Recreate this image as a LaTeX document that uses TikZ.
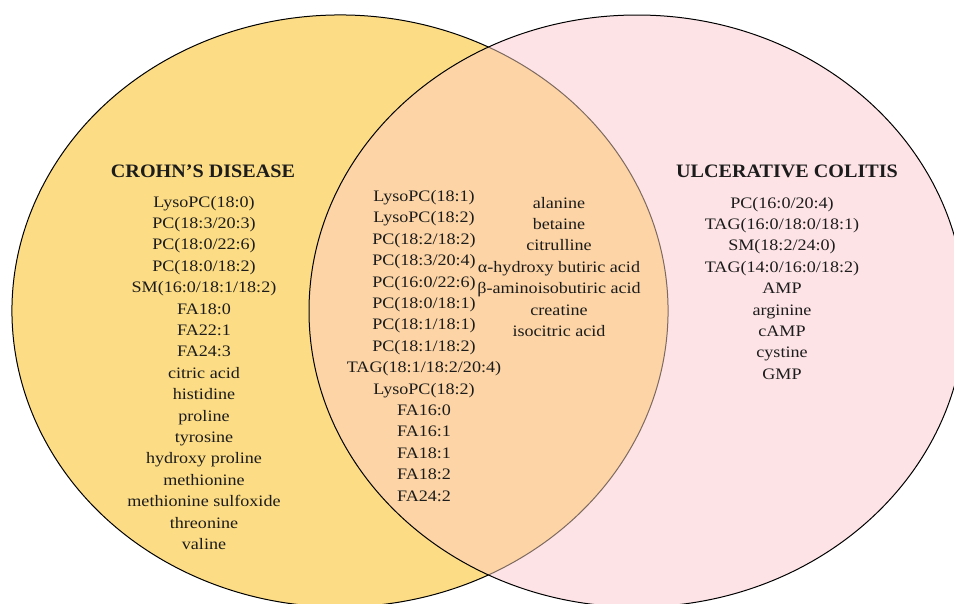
\documentclass[tikz,border=0pt]{standalone}
\usepackage{fontspec}
\setmainfont{Liberation Serif}[FakeStretch=1.13]
\newfontfamily\titlefont{Liberation Serif}[FakeStretch=1.06]
\definecolor{cdyel}{RGB}{252,220,132}
\definecolor{ucpink}{RGB}{253,227,230}
\definecolor{bothpeach}{RGB}{252,212,165}
\definecolor{ink}{RGB}{28,28,28}
\definecolor{innerarc}{RGB}{125,105,95}
\begin{document}
\begin{tikzpicture}[x=1pt,y=-1pt,
  item/.style={font=\fontsize{16}{19}\selectfont, text=ink, anchor=base, inner sep=0pt},
  ttl/.style={font=\titlefont\bfseries\fontsize{19}{22}\selectfont, text=ink, anchor=base, inner sep=0pt},
  outline/.style={draw=black, line width=1pt}]
\useasboundingbox (0,0) rectangle (954,603);
\clip (0,0) rectangle (954,603);
% fills
\fill[cdyel] (340,311) ellipse [x radius=328pt, y radius=296pt];
\fill[ucpink] (637,311) ellipse [x radius=328pt, y radius=296pt];
\begin{scope}
  \clip (340,311) ellipse [x radius=328pt, y radius=296pt];
  \fill[bothpeach] (637,311) ellipse [x radius=328pt, y radius=296pt];
\end{scope}
% outlines
\coordinate (cL) at (340,311);
\coordinate (cR) at (637,311);
\draw[outline] (cL) ++(63.08:328pt and 296pt) arc [start angle=63.08, end angle=296.92, x radius=328pt, y radius=296pt];
\draw[draw=innerarc, line width=1pt] (cL) ++(-63.08:328pt and 296pt) arc [start angle=-63.08, end angle=63.08, x radius=328pt, y radius=296pt];
\draw[outline] (cR) ellipse [x radius=328pt, y radius=296pt];
% titles
\node[ttl] (tcd) at (203,177) {CROHN’S DISEASE};
\node[ttl] (tuc) at (787,177) {ULCERATIVE COLITIS};
% Crohn's only
\foreach \t [count=\i] in {LysoPC(18:0),PC(18:3/20:3),PC(18:0/22:6),PC(18:0/18:2),SM(16:0/18:1/18:2),FA18:0,FA22:1,FA24:3,citric acid,histidine,proline,tyrosine,hydroxy proline,methionine,methionine sulfoxide,threonine,valine}
  \node[item] (cd\i) at (204,{207+21.4*(\i-1)}) {\t};
% shared, lipids
\foreach \t [count=\i] in {LysoPC(18:1),LysoPC(18:2),PC(18:2/18:2),PC(18:3/20:4),PC(16:0/22:6),PC(18:0/18:1),PC(18:1/18:1),PC(18:1/18:2),TAG(18:1/18:2/20:4),LysoPC(18:2),FA16:0,FA16:1,FA18:1,FA18:2,FA24:2}
  \node[item] (bl\i) at (424,{201.5+21.4*(\i-1)}) {\t};
% shared, others
\foreach \t [count=\i] in {alanine,betaine,citrulline,α-hydroxy butiric acid,β-aminoisobutiric acid,creatine,isocitric acid}
  \node[item] (bm\i) at (559,{208+21.4*(\i-1)}) {\t};
% UC only
\foreach \t [count=\i] in {PC(16:0/20:4),TAG(16:0/18:0/18:1),SM(18:2/24:0),TAG(14:0/16:0/18:2),AMP,arginine,cAMP,cystine,GMP}
  \node[item] (uc\i) at (782,{208+21.4*(\i-1)}) {\t};
\end{tikzpicture}
\end{document}
